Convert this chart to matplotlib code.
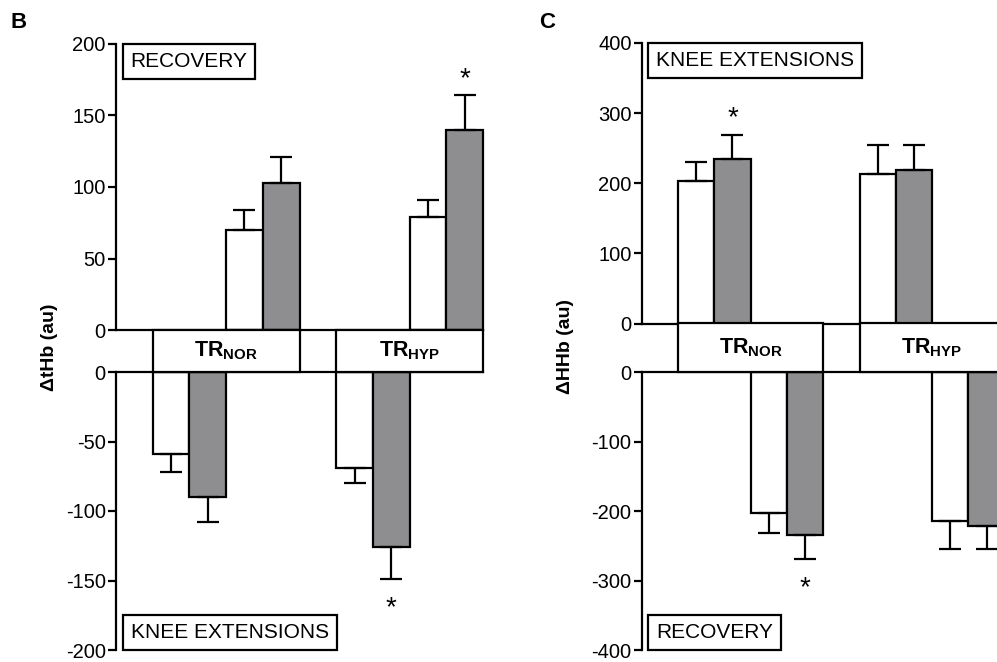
import numpy as np
import matplotlib.pyplot as plt
from matplotlib.patches import Rectangle

plt.rcParams['font.family'] = ['Liberation Sans', 'DejaVu Sans']
plt.rcParams['mathtext.fontset'] = 'custom'
plt.rcParams['mathtext.rm'] = 'Liberation Sans'
plt.rcParams['mathtext.bf'] = 'Liberation Sans:bold'
plt.rcParams['axes.unicode_minus'] = False

# group labels
groups = [r'$\mathbf{TR_{NOR}}$', r'$\mathbf{TR_{HYP}}$']

# panel B: delta tHb (au)
tHb_rec_open = [70, 79]
tHb_rec_open_err = [14, 12]
tHb_rec_fill = [103, 140]
tHb_rec_fill_err = [18, 24]
tHb_rec_sig = [False, True]
tHb_ke_open = [-59, -69]
tHb_ke_open_err = [13, 11]
tHb_ke_fill = [-90, -126]
tHb_ke_fill_err = [18, 23]
tHb_ke_sig = [False, True]

# panel C: delta HHb (au)
HHb_ke_open = [203, 213]
HHb_ke_open_err = [27, 41]
HHb_ke_fill = [234, 219]
HHb_ke_fill_err = [35, 35]
HHb_ke_sig = [True, False]
HHb_rec_open = [-203, -214]
HHb_rec_open_err = [28, 41]
HHb_rec_fill = [-235, -221]
HHb_rec_fill_err = [34, 34]
HHb_rec_sig = [True, False]

W, H = 997, 662
GREY = '#8e8e91'
LW = 1.6
TICK_FS = 14.5
BOX_FS = 15

fig = plt.figure(figsize=(W / 100, H / 100), dpi=100)


def add_ax(left, top, right, bottom):
    return fig.add_axes([left / W, 1 - bottom / H, (right - left) / W, (bottom - top) / H])


def style_axis(ax, ymin, ymax, step, keep):
    ax.set_xlim(0, 10)
    ax.set_ylim(ymin, ymax)
    for s in ['top', 'bottom', 'left', 'right']:
        ax.spines[s].set_visible(s in keep)
        ax.spines[s].set_linewidth(LW)
    ax.set_xticks([])
    ax.set_yticks(np.arange(ymin, ymax + 1, step))
    ax.tick_params(axis='y', direction='out', length=5.8, width=LW, pad=1.5,
                   labelsize=TICK_FS)
    ax.patch.set_alpha(0)


def draw_bars(ax, slot, open_v, open_e, fill_v, fill_e, sig, up):
    n = len(open_v)
    x_open = [1 + 5 * g + slot for g in range(n)]
    x_fill = [x + 1 for x in x_open]
    ekw = dict(elinewidth=LW, capthick=LW, capsize=8, ecolor='black')
    zeros = [0] * n
    for xs, vals, errs, color in [(x_open, open_v, open_e, 'white'),
                                  (x_fill, fill_v, fill_e, GREY)]:
        yerr = [zeros, errs] if up else [errs, zeros]
        ax.bar(xs, vals, width=1, align='edge', color=color, edgecolor='black',
               linewidth=LW, yerr=yerr, error_kw=ekw, clip_on=False, zorder=2)
    for x, v, e, s in zip(x_fill, fill_v, fill_e, sig):
        if s:
            y = v + e if up else v - e
            off = 12 if up else -21
            ax.annotate('*', xy=(x + 0.5, y), xytext=(0, off), textcoords='offset points',
                        ha='center', va='center', fontsize=20)


def label_box(ax, text, at_top):
    if at_top:
        ax.annotate(text, xy=(0, 1), xycoords='axes fraction', xytext=(10.5, -6),
                    textcoords='offset points', ha='left', va='top', fontsize=BOX_FS,
                    bbox=dict(boxstyle='square,pad=0.38', fc='white', ec='black', lw=LW))
    else:
        ax.annotate(text, xy=(0, 0), xycoords='axes fraction', xytext=(10.5, 6),
                    textcoords='offset points', ha='left', va='bottom', fontsize=BOX_FS,
                    bbox=dict(boxstyle='square,pad=0.38', fc='white', ec='black', lw=LW))


def panel(left, right, y_top, y_zu, y_zl, y_bot, ymax, step, upper, lower,
          up_slot, lo_slot, up_text, lo_text, ylabel, ylabel_x, letter, letter_x):
    ax_u = add_ax(left, y_top, right, y_zu)
    ax_l = add_ax(left, y_zl, right, y_bot)
    ax_b = add_ax(left, y_zu, right, y_zl)
    style_axis(ax_u, 0, ymax, step, ['left', 'bottom'])
    style_axis(ax_l, -ymax, 0, step, ['left', 'top'])
    draw_bars(ax_u, up_slot, *upper, up=True)
    draw_bars(ax_l, lo_slot, *lower, up=False)
    ax_b.set_xlim(0, 10)
    ax_b.set_ylim(0, 1)
    ax_b.axis('off')
    for g, name in enumerate(groups):
        x0 = 1 + 5 * g
        ax_b.add_patch(Rectangle((x0, 0), 4, 1, fc='white', ec='black', lw=LW, clip_on=False))
        ax_b.text(x0 + 2, 0.5, name, ha='center', va='center', fontsize=15.5)
    label_box(ax_u, up_text, True)
    label_box(ax_l, lo_text, False)
    fig.text(ylabel_x / W, 1 - 347 / H, ylabel, rotation=90, fontsize=14,
             fontweight='bold', ha='center', va='center')
    fig.text(letter_x / W, 1 - 22 / H, letter, fontsize=16, fontweight='bold',
             ha='center', va='center')


panel(116, 483, 44, 330, 372, 650, 200, 50,
      (tHb_rec_open, tHb_rec_open_err, tHb_rec_fill, tHb_rec_fill_err, tHb_rec_sig),
      (tHb_ke_open, tHb_ke_open_err, tHb_ke_fill, tHb_ke_fill_err, tHb_ke_sig),
      2, 0, 'RECOVERY', 'KNEE EXTENSIONS', '\u0394tHb (au)', 50, 'B', 19)

panel(641.7, 1004.7, 43, 323.5, 372.3, 650, 400, 100,
      (HHb_ke_open, HHb_ke_open_err, HHb_ke_fill, HHb_ke_fill_err, HHb_ke_sig),
      (HHb_rec_open, HHb_rec_open_err, HHb_rec_fill, HHb_rec_fill_err, HHb_rec_sig),
      0, 2, 'KNEE EXTENSIONS', 'RECOVERY', '\u0394HHb (au)', 565, 'C', 547)

fig.savefig('out.png', dpi=100)
